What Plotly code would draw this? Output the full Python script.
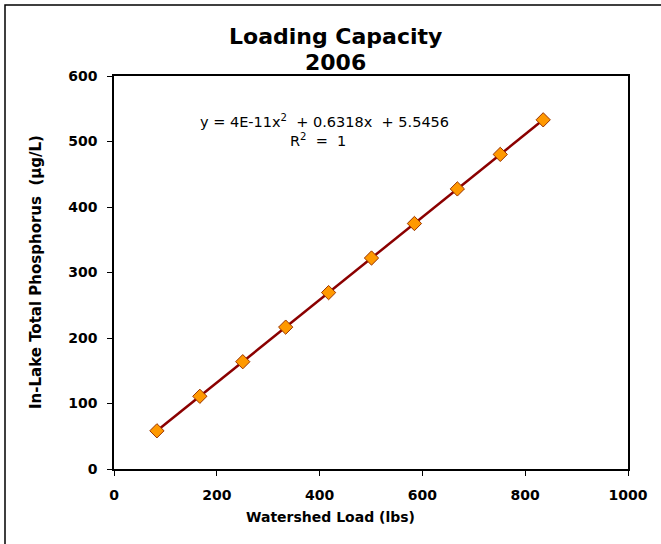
import plotly.graph_objects as go

watershed_load = [83.5, 167, 250.5, 334, 417.5, 501, 584.5, 668, 751.5, 835]
in_lake_tp = [58.3, 111.0, 163.8, 216.6, 269.3, 322.1, 374.8, 427.6, 480.3, 533.1]
x_ticks = [0, 200, 400, 600, 800, 1000]
y_ticks = [0, 100, 200, 300, 400, 500, 600]

L, R, T, B = 114, 33, 76, 75
W, H = 661, 544
pw, ph = W - L - R, H - T - B

def px(xp):
    return (xp - L) / pw

def py(yp):
    return (H - B - yp) / ph

fig = go.Figure()
fig.add_trace(go.Scatter(
    x=watershed_load, y=in_lake_tp, mode="lines",
    line=dict(color="#8B0000", width=2.5), showlegend=False, hoverinfo="skip"))
fig.add_trace(go.Scatter(
    x=watershed_load, y=in_lake_tp, mode="markers",
    marker=dict(symbol="diamond", size=11, color="#FF9900",
                line=dict(color="#993300", width=1)),
    showlegend=False))

tickfont = dict(family="DejaVu Sans", size=14, color="black")
axis_common = dict(showgrid=False, zeroline=False, showline=True, linecolor="black",
                   linewidth=1.5, mirror=True, ticks="outside", ticklen=5,
                   tickcolor="black", tickwidth=1, tickfont=tickfont)

fig.update_xaxes(range=[0, 1000], tickvals=x_ticks,
                 ticktext=["<b>%d</b>" % v for v in x_ticks], ticklabelstandoff=7, **axis_common)
fig.update_yaxes(range=[0, 600], tickvals=y_ticks,
                 ticktext=["<b>%d</b>" % v for v in y_ticks], ticklabelstandoff=7, **axis_common)

fig.update_layout(
    width=W, height=H,
    margin=dict(l=L, r=R, t=T, b=B, autoexpand=False),
    paper_bgcolor="white", plot_bgcolor="white",
    font=dict(family="DejaVu Sans", color="black"),
    shapes=[dict(type="rect", xref="paper", yref="paper",
                 x0=px(5), x1=px(700), y0=py(600), y1=py(5),
                 line=dict(color="black", width=1.5), layer="below")],
    annotations=[
        dict(text="<b>Loading Capacity</b>", xref="paper", yref="paper",
             x=px(335), y=py(37), showarrow=False, font=dict(size=22, family="DejaVu Sans"),
             xanchor="center", yanchor="middle"),
        dict(text="<b>2006</b>", xref="paper", yref="paper",
             x=px(335), y=py(62), showarrow=False, font=dict(size=22, family="DejaVu Sans"),
             xanchor="center", yanchor="middle"),
        dict(text="y = 4E-11x<sup>2</sup>  + 0.6318x  + 5.5456", xref="paper", yref="paper",
             x=px(324), y=py(121), showarrow=False, font=dict(size=14.5, family="DejaVu Sans"),
             xanchor="center", yanchor="middle"),
        dict(text="R<sup>2</sup>  =  1", xref="paper", yref="paper",
             x=px(318), y=py(140), showarrow=False, font=dict(size=14.5, family="DejaVu Sans"),
             xanchor="center", yanchor="middle"),
        dict(text="<b>Watershed Load (lbs)</b>", xref="paper", yref="paper",
             x=px(330), y=py(517), showarrow=False, font=dict(size=14, family="DejaVu Sans"),
             xanchor="center", yanchor="middle"),
        dict(text="<b>In-Lake Total Phosphorus  (µg/L)</b>", xref="paper", yref="paper",
             x=px(36), y=py(272), showarrow=False, textangle=-90,
             font=dict(size=15, family="DejaVu Sans"),
             xanchor="center", yanchor="middle"),
    ],
)

fig.write_html("out.html", config={"displayModeBar": False},
               post_script="document.body.style.margin='0';document.body.style.overflow='hidden';")
